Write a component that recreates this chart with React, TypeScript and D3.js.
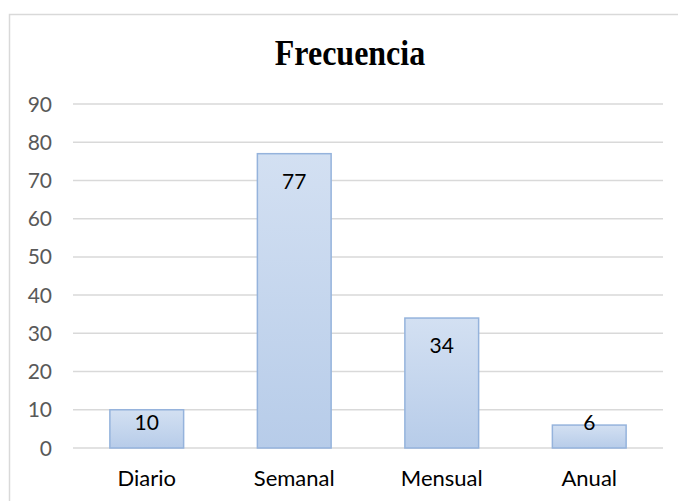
import React from "react";
import * as d3 from "d3";

const categories = ["Diario", "Semanal", "Mensual", "Anual"];
const values = [10, 77, 34, 6];
const yTicks = [0, 10, 20, 30, 40, 50, 60, 70, 80, 90];
const title = "Frecuencia";

const W = 678;
const H = 501;
const left = 73;
const right = 663;
const top = 104;
const bottom = 448;

export default function App() {
  const x = d3.scaleBand<string>().domain(categories).range([left, right]).paddingInner(0.5).paddingOuter(0.25);
  const y = d3.scaleLinear().domain([0, 90]).range([bottom, top]);
  const font = "Lato, 'Open Sans', sans-serif";
  return (
    <svg width={W} height={H} style={{ position: "absolute", left: 0, top: 0, background: "#fff" }}>
      <defs>
        <linearGradient id="barGrad" x1="0" y1="0" x2="0" y2="1">
          <stop offset="0%" stopColor="#d3e0f2" />
          <stop offset="100%" stopColor="#b7cce9" />
        </linearGradient>
      </defs>
      <rect x={9.5} y={14.5} width={700} height={520} fill="#fff" stroke="#d9d9d9" strokeWidth={1.5} />
      <text transform="translate(350,65) scale(1,1.1)" x={0} y={0} textAnchor="middle" fontFamily="'Liberation Serif', 'Times New Roman', serif" fontWeight="bold" fontSize={32} fill="#000">
        {title}
      </text>
      {yTicks.map((t) => (
        <g key={t}>
          <line x1={left} x2={right} y1={y(t)} y2={y(t)} stroke="#d9d9d9" strokeWidth={1.5} />
          <text x={52} y={y(t) + 7.5} textAnchor="end" fontFamily={font} fontSize={21} fill="#595959">
            {t}
          </text>
        </g>
      ))}
      {categories.map((c, i) => {
        const bx = x(c)!;
        const by = y(values[i]);
        const labelY = Math.min(by + 28, bottom - 25);
        return (
          <g key={c}>
            <rect x={bx} y={by} width={x.bandwidth()} height={bottom - by} fill="url(#barGrad)" stroke="#95b3dc" strokeWidth={1.5} />
            <text x={bx + x.bandwidth() / 2} y={labelY + 7} textAnchor="middle" fontFamily={font} fontSize={21} fill="#000">
              {values[i]}
            </text>
            <text x={bx + x.bandwidth() / 2} y={486} textAnchor="middle" fontFamily={font} fontSize={22} fill="#000">
              {c}
            </text>
          </g>
        );
      })}
    </svg>
  );
}
